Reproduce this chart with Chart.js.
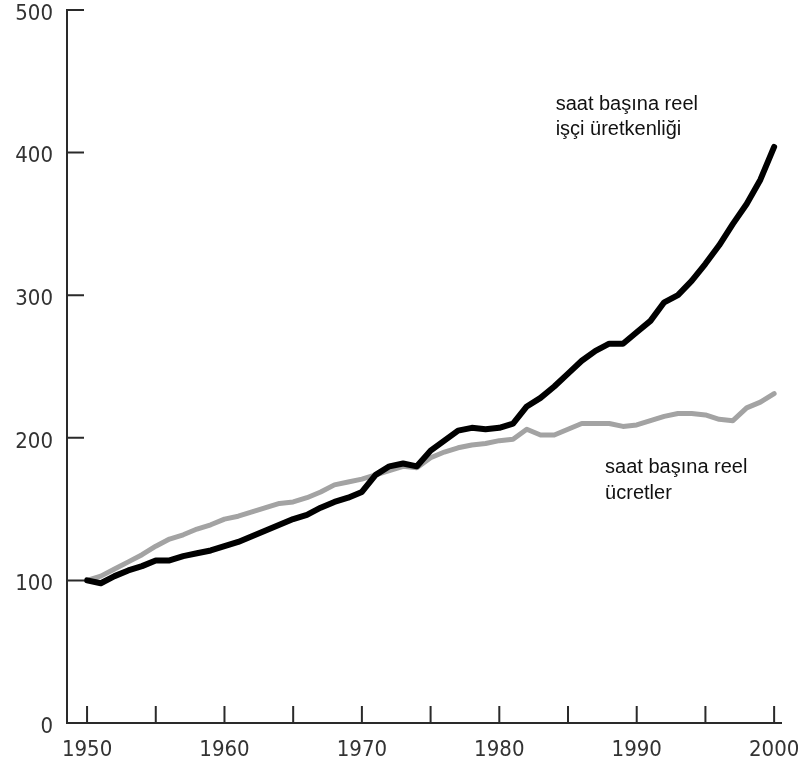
<!DOCTYPE html>
<html>
<head>
<meta charset="utf-8">
<script src="https://cdn.jsdelivr.net/npm/chart.js@4"></script>
<style>
  body { margin: 0; background: #fff; }
</style>
</head>
<body>
<canvas id="chart" width="806" height="776"></canvas>
<script>
const years = [
  1950, 1951, 1952, 1953, 1954, 1955, 1956, 1957, 1958, 1959,
  1960, 1961, 1962, 1963, 1964, 1965, 1966, 1967, 1968, 1969,
  1970, 1971, 1972, 1973, 1974, 1975, 1976, 1977, 1978, 1979,
  1980, 1981, 1982, 1983, 1984, 1985, 1986, 1987, 1988, 1989,
  1990, 1991, 1992, 1993, 1994, 1995, 1996, 1997, 1998, 1999, 2000
];
// saat başına reel işçi üretkenliği (1950 = 100)
const productivity = [
  100, 98, 103, 107, 110, 114, 114, 117, 119, 121,
  124, 127, 131, 135, 139, 143, 146, 151, 155, 158,
  162, 174, 180, 182, 180, 191, 198, 205, 207, 206,
  207, 210, 222, 228, 236, 245, 254, 261, 266, 266,
  274, 282, 295, 300, 310, 322, 335, 350, 364, 381, 404
];
// saat başına reel ücretler (1950 = 100)
const wages = [
  100, 103, 108, 113, 118, 124, 129, 132, 136, 139,
  143, 145, 148, 151, 154, 155, 158, 162, 167, 169,
  171, 174, 177, 180, 179, 186, 190, 193, 195, 196,
  198, 199, 206, 202, 202, 206, 210, 210, 210, 208,
  209, 212, 215, 217, 217, 216, 213, 212, 221, 225, 231
];
const xLabelYears = [1950, 1960, 1970, 1980, 1990, 2000];
const xTickYears = [1950, 1955, 1960, 1965, 1970, 1975, 1980, 1985, 1990, 1995, 2000];
const yTickValues = [0, 100, 200, 300, 400, 500];

// text labels next to the lines, anchored at [year, value]
const productivityText = ['saat başına reel', 'işçi üretkenliği'];
const productivityTextAt = [1984.1, 430];
const wagesText = ['saat başına reel', 'ücretler'];
const wagesTextAt = [1987.7, 175];

const axisMarks = {
  id: 'axisMarks',
  afterDraw(chart) {
    const { ctx, scales: { x, y } } = chart;
    ctx.save();
    ctx.strokeStyle = '#2a2a2a';
    ctx.lineWidth = 2;
    ctx.beginPath();
    xTickYears.forEach(v => {
      const px = x.getPixelForValue(v);
      ctx.moveTo(px, y.bottom);
      ctx.lineTo(px, y.bottom - 17);
    });
    yTickValues.forEach(v => {
      if (v === 0) return;
      const py = y.getPixelForValue(v);
      ctx.moveTo(x.left, py);
      ctx.lineTo(x.left + 17, py);
    });
    ctx.stroke();

    ctx.fillStyle = '#111';
    ctx.font = '20px "Liberation Sans", Arial, sans-serif';
    ctx.textAlign = 'left';
    ctx.textBaseline = 'alphabetic';
    const drawText = (lines, at, gap) => {
      const px = x.getPixelForValue(at[0]);
      const py = y.getPixelForValue(at[1]);
      lines.forEach((t, i) => ctx.fillText(t, px, py + i * gap));
    };
    drawText(productivityText, productivityTextAt, 25);
    drawText(wagesText, wagesTextAt, 26);
    ctx.restore();
  }
};

const tickFont = { family: '"DejaVu Sans Condensed", "DejaVu Sans", sans-serif', size: 22 };

new Chart(document.getElementById('chart').getContext('2d'), {
  type: 'line',
  data: {
    datasets: [
      {
        label: 'saat başına reel işçi üretkenliği',
        data: years.map((yr, i) => ({ x: yr, y: productivity[i] })),
        borderColor: '#000',
        borderWidth: 6,
        tension: 0,
        pointRadius: 0,
        borderJoinStyle: 'round',
        borderCapStyle: 'round'
      },
      {
        label: 'saat başına reel ücretler',
        data: years.map((yr, i) => ({ x: yr, y: wages[i] })),
        borderColor: '#a3a3a3',
        borderWidth: 5,
        tension: 0,
        pointRadius: 0,
        borderJoinStyle: 'round',
        borderCapStyle: 'round'
      }
    ]
  },
  options: {
    responsive: false,
    animation: false,
    layout: { padding: { top: 10, right: 25, left: 0, bottom: 0 } },
    plugins: {
      legend: { display: false },
      tooltip: { enabled: false }
    },
    scales: {
      x: {
        type: 'linear',
        min: 1948.54,
        max: 2000.5,
        afterBuildTicks: s => { s.ticks = xLabelYears.map(v => ({ value: v })); },
        afterFit: s => { s.height = 53; s.paddingLeft = 0; s.paddingRight = 0; },
        grid: { display: false, drawTicks: false },
        border: { display: true, color: '#2a2a2a', width: 2 },
        ticks: {
          autoSkip: false,
          maxRotation: 0,
          padding: 14,
          color: '#333',
          font: tickFont,
          callback: v => String(v)
        }
      },
      y: {
        min: 0,
        max: 500,
        afterBuildTicks: s => { s.ticks = yTickValues.map(v => ({ value: v })); },
        afterFit: s => { s.width = 67; s.paddingTop = 0; s.paddingBottom = 0; },
        grid: { display: false, drawTicks: false },
        border: { display: true, color: '#2a2a2a', width: 2 },
        ticks: {
          padding: 14,
          labelOffset: 4,
          color: '#333',
          font: tickFont
        }
      }
    }
  },
  plugins: [axisMarks]
});
</script>
</body>
</html>
